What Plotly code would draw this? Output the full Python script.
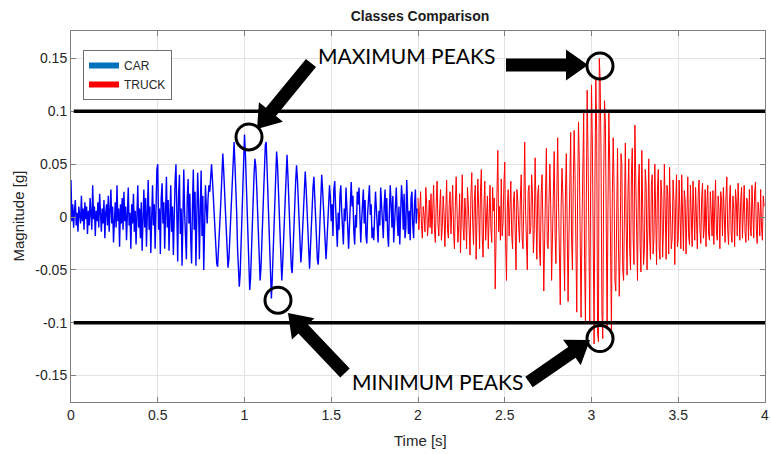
import math
import plotly.graph_objects as go

# ---------------- data ----------------
sample_step = 0.005         # s between samples
car_start = 0.0             # s
truck_start = 2.0           # s

car_values = [
    # 0.00 - 0.78 s : noisy, slowly growing
    0.035, -0.004, 0.012, -0.010, 0.006, 0.016, -0.008, 0.004, -0.014, 0.010, 0.002, -0.006, 0.020, -0.004, 0.008, -0.012, 0.014, -0.002, 0.010, -0.016,
    0.006, -0.008, 0.018, 0.004, -0.012, 0.030, -0.002, 0.010, -0.018, 0.006, -0.004, 0.014, -0.010, 0.022, 0.002, -0.014, 0.008, -0.006, 0.016, -0.020,
    0.004, 0.012, -0.008, 0.020, -0.014, 0.006, 0.026, -0.006, 0.010, -0.024, 0.002, 0.014, -0.010, 0.030, -0.004, 0.008, -0.028, 0.012, -0.006, 0.018,
    -0.012, 0.024, -0.004, 0.010, -0.022, 0.016, 0.028, -0.008, 0.004, -0.030, 0.012, -0.006, 0.022, -0.014, 0.006, -0.026, 0.018, 0.030, -0.010, 0.008,
    -0.020, 0.014, -0.032, 0.006, 0.026, -0.010, 0.018, -0.028, 0.004, 0.035, -0.012, 0.010, -0.034, 0.016, 0.030, -0.008, 0.012, -0.030, 0.020, 0.045,
    0.050, -0.012, 0.008, -0.035, 0.018, 0.032, -0.006, 0.014, -0.030, 0.004, 0.038, -0.010, 0.016, -0.032, 0.006, 0.030, -0.014, 0.010, -0.036, 0.012,
    0.034, 0.050, -0.010, -0.042, 0.020, 0.040, -0.016, 0.008, -0.046, 0.012, 0.045, 0.004, -0.030, -0.040, 0.018, 0.036, -0.006, 0.022, -0.020, -0.044,
    0.010, 0.045, -0.012, 0.024, -0.046, -0.010, 0.042, 0.014, -0.040, 0.006, 0.044, -0.018, 0.020, -0.050, -0.014, 0.030,
    # 0.78 - 1.50 s : strong oscillation around the maximum / minimum peaks
    0.010, -0.006, 0.018, 0.030, 0.024, 0.042, 0.050, 0.036, 0.020, 0.004, -0.018, -0.030, -0.044, -0.047, -0.034, -0.022,
    0.002, 0.020, 0.046, 0.060, 0.044, 0.030, 0.006, -0.012, -0.034, -0.048, -0.040, -0.020, -0.004, 0.024, 0.040, 0.062,
    0.071, 0.050, 0.030, 0.004, -0.030, -0.050, -0.066, -0.054, -0.030, -0.008, 0.022, 0.050, 0.078, 0.060, 0.034, 0.010,
    -0.024, -0.050, -0.069, -0.058, -0.030, -0.006, 0.018, 0.040, 0.055, 0.048, 0.030, 0.004, -0.022, -0.044, -0.060, -0.048,
    -0.024, 0.004, 0.030, 0.052, 0.068, 0.071, 0.046, 0.016, -0.014, -0.040, -0.062, -0.077, -0.058, -0.030, -0.004, 0.024,
    0.046, 0.062, 0.050, 0.026, 0.002, -0.024, -0.046, -0.060, -0.044, -0.020, 0.006, 0.030, 0.050, 0.059, 0.040, 0.018,
    -0.006, -0.030, -0.048, -0.053, -0.036, -0.012, 0.012, 0.034, 0.049, 0.036, 0.016, -0.006, -0.028, -0.043, -0.030, -0.010,
    0.014, 0.032, 0.043, 0.028, 0.008, -0.016, -0.036, -0.049, -0.030, -0.008, 0.012, 0.028, 0.038, 0.022, 0.002, -0.020,
    -0.040, -0.045, -0.026, -0.004, 0.016, 0.040, 0.026, 0.008, -0.014, -0.032, -0.040, -0.024, -0.006, 0.014, 0.030, 0.018,
    # 1.50 - 2.00 s : decaying noise
    -0.004, 0.012, -0.018, 0.026, 0.034, 0.010, -0.014, -0.028, 0.004, -0.012, 0.020, 0.030, 0.006, -0.020, -0.026, 0.008, -0.004, 0.028, 0.014, -0.010,
    -0.030, -0.006, 0.016, 0.033, 0.010, 0.020, -0.014, -0.026, 0.002, -0.010, 0.024, 0.012, 0.028, -0.008, -0.024, -0.004, 0.010, 0.026, -0.006, 0.016,
    -0.018, -0.025, 0.004, 0.020, 0.030, 0.002, 0.012, -0.020, -0.010, -0.022, 0.014, 0.024, 0.008, -0.012, -0.024, 0.006, -0.008, 0.028, 0.012, -0.006,
    -0.020, 0.010, 0.026, -0.004, 0.018, -0.016, -0.028, 0.004, 0.030, 0.012, -0.010, 0.020, -0.024, -0.006, 0.016, 0.028, -0.002, -0.018, 0.010, -0.026,
    0.004, 0.030, 0.016, -0.012, 0.022, -0.020, -0.010, 0.035, 0.010, -0.016, 0.006, -0.022, 0.018, 0.024, -0.008, -0.020, 0.012, 0.026, -0.006, 0.008,
]

truck_values = [
    0.018, -0.012, 0.006, 0.024, -0.008, -0.020, 0.010, 0.002, -0.014, 0.028, 0.012, -0.018, -0.006, 0.016, -0.010, 0.022, -0.016, 0.004, 0.030, -0.012,
    -0.024, 0.014, 0.034, -0.006, -0.018, 0.008, 0.026, -0.022, -0.010, 0.020, 0.004, -0.028, 0.016, 0.035, -0.012, -0.020, 0.012, 0.024, -0.016, 0.002,
    0.030, -0.014, -0.030, 0.010, 0.038, 0.006, -0.024, -0.008, 0.022, -0.034, 0.014, 0.040, -0.010, -0.022, 0.018, 0.002, -0.030, 0.028, 0.012, -0.018,
    -0.036, 0.020, 0.042, -0.004, -0.026, 0.016, 0.030, -0.040, -0.012, 0.036, 0.008, -0.030, 0.024, 0.045, -0.018, -0.038, 0.010, 0.034, -0.022, 0.004,
    0.020, -0.030, 0.012, 0.030, -0.010, -0.024, 0.028, 0.006, 0.018, -0.068, -0.020, 0.024, 0.063, -0.014, 0.010, -0.022, 0.036, -0.018, -0.006, 0.030,
    0.052, -0.024, -0.060, 0.010, 0.026, -0.018, 0.020, 0.034, -0.016, -0.030, 0.014, 0.024, -0.012, -0.050, 0.026, 0.016, -0.008, -0.024, 0.018, 0.040,
    -0.020, -0.030, 0.014, 0.071, 0.006, -0.022, -0.050, 0.024, 0.030, -0.016, -0.010, 0.040, 0.020, -0.034, -0.012, 0.056, 0.010, -0.040, 0.022, 0.030,
    -0.030, -0.046, 0.022, 0.040, -0.010, -0.070, -0.020, 0.030, 0.065, -0.026, -0.030, 0.014, 0.050, 0.012, -0.060, -0.020, 0.028, 0.062, -0.016, -0.044,
    0.020, 0.075, 0.014, -0.030, -0.083, 0.010, 0.046, 0.020, -0.040, -0.070, 0.024, 0.060, -0.010, -0.080, -0.018, 0.040, 0.080, -0.020, -0.050, 0.030,
    0.082, 0.040, -0.070, -0.090, 0.020, 0.090, 0.050, -0.060, -0.095, -0.010, 0.085, 0.100, -0.040, -0.098, 0.012, 0.120, 0.060, -0.080, -0.100, 0.030,
    0.125, 0.070, -0.090, -0.120, 0.040, 0.130, 0.080, -0.110, -0.118, 0.150, 0.130, 0.060, -0.090, -0.115, 0.030, 0.110, 0.090, -0.070, -0.105, 0.010,
    0.100, 0.050, -0.080, -0.108, 0.020, 0.075, 0.030, -0.060, -0.070, 0.040, 0.065, -0.020, -0.075, -0.030, 0.060, 0.050, -0.050, -0.060, 0.030, 0.070,
    -0.010, -0.055, 0.020, 0.055, -0.030, -0.050, 0.040, 0.065, -0.020, -0.045, 0.087, 0.020, -0.040, -0.060, 0.030, 0.050, -0.025, -0.052, 0.063, 0.010,
    -0.045, -0.030, 0.045, 0.030, -0.050, -0.010, 0.055, -0.020, -0.040, 0.030, 0.040, -0.035, -0.020, 0.050, 0.010, -0.045, 0.025, 0.045, -0.030, -0.040,
    0.035, 0.020, -0.038, -0.010, 0.050, -0.015, -0.040, 0.030, 0.020, -0.035, 0.047, 0.005, -0.030, -0.020, 0.035, 0.015, -0.045, 0.010, 0.040, -0.028,
    -0.020, 0.035, 0.010, -0.030, 0.040, -0.005, -0.032, 0.025, 0.015, -0.035, 0.020, 0.038, -0.018, -0.026, 0.030, -0.010, -0.028, 0.034, 0.008, -0.022,
    0.028, -0.018, -0.030, 0.022, 0.035, -0.012, -0.025, 0.018, 0.032, -0.020, -0.010, 0.026, -0.028, 0.012, 0.030, -0.016, -0.022, 0.024, 0.006, -0.018,
    0.025, -0.026, 0.010, 0.035, -0.014, -0.022, 0.020, 0.006, -0.030, 0.024, 0.016, -0.018, 0.028, -0.008, -0.024, 0.018, 0.038, -0.012, -0.026, 0.014,
    0.030, -0.016, -0.024, 0.020, 0.008, -0.028, 0.026, 0.014, -0.018, 0.032, -0.010, -0.022, 0.016, 0.028, -0.020, 0.004, 0.030, -0.014, -0.024, 0.018,
    0.012, -0.022, 0.026, -0.008, -0.018, 0.030, 0.010, -0.020, 0.022, 0.033, -0.012, -0.025, 0.014, 0.004, -0.018, 0.026, -0.010, -0.022, 0.020, 0.010,
]

threshold_values = [0.1, -0.1]

# annotated peaks: (time, magnitude)
max_peaks = [(1.026, 0.0758), (3.049, 0.143)]
min_peaks = [(1.193, -0.0787), (3.049, -0.115)]

x_tick_vals = [0, 0.5, 1, 1.5, 2, 2.5, 3, 3.5, 4]
x_tick_text = ["0", "0.5", "1", "1.5", "2", "2.5", "3", "3.5", "4"]
y_tick_vals = [-0.15, -0.1, -0.05, 0, 0.05, 0.1, 0.15]
y_tick_text = ["-0.15", "-0.1", "-0.05", "0", "0.05", "0.1", "0.15"]

car_time = [round(car_start + i * sample_step, 4) for i in range(len(car_values))]
truck_time = [round(truck_start + i * sample_step, 4) for i in range(len(truck_values))]

# ---------------- layout geometry ----------------
W, H = 771, 454
ML, MR, MT, MB = 71, 6, 31, 52
PW, PH = W - ML - MR, H - MT - MB


def to_paper(px, py):
    return (px - ML) / PW, (MT + PH - py) / PH


def arrow_path(tail, tip, shaft_w=13, head_w=31, head_len=22):
    dx, dy = tip[0] - tail[0], tip[1] - tail[1]
    L = math.hypot(dx, dy)
    ux, uy = dx / L, dy / L
    nx, ny = -uy, ux
    bx, by = tip[0] - ux * head_len, tip[1] - uy * head_len
    pts = [
        (tail[0] + nx * shaft_w / 2, tail[1] + ny * shaft_w / 2),
        (bx + nx * shaft_w / 2, by + ny * shaft_w / 2),
        (bx + nx * head_w / 2, by + ny * head_w / 2),
        tip,
        (bx - nx * head_w / 2, by - ny * head_w / 2),
        (bx - nx * shaft_w / 2, by - ny * shaft_w / 2),
        (tail[0] - nx * shaft_w / 2, tail[1] - ny * shaft_w / 2),
    ]
    pp = [to_paper(x, y) for x, y in pts]
    return "M " + " L ".join(f"{x:.5f},{y:.5f}" for x, y in pp) + " Z"


fig = go.Figure()

fig.add_trace(go.Scatter(x=car_time, y=car_values, mode="lines",
                         line=dict(color="#0000FF", width=1.4), showlegend=False,
                         name="CAR"))
fig.add_trace(go.Scatter(x=truck_time, y=truck_values, mode="lines",
                         line=dict(color="#FF0000", width=1), showlegend=False,
                         name="TRUCK"))
# legend entries
fig.add_trace(go.Scatter(x=[None], y=[None], mode="lines", name="CAR",
                         line=dict(color="#0072BD", width=6)))
fig.add_trace(go.Scatter(x=[None], y=[None], mode="lines", name="TRUCK",
                         line=dict(color="#FF0000", width=6)))

shapes = []
for yv in threshold_values:
    shapes.append(dict(type="line", xref="paper", yref="y", x0=0.004, x1=1,
                       y0=yv, y1=yv, line=dict(color="black", width=3.5),
                       layer="above"))

for (tx, ty) in max_peaks + min_peaks:
    shapes.append(dict(type="circle", xref="x", yref="y",
                       xsizemode="pixel", ysizemode="pixel",
                       xanchor=tx, yanchor=ty, x0=-13, x1=13, y0=-13, y1=13,
                       line=dict(color="black", width=3), layer="above"))

arrows = [((311, 63), (257, 129)),
          ((506, 65), (588, 65)),
          ((345, 373), (288, 313)),
          ((529, 382), (590, 340))]
for tail, tip in arrows:
    shapes.append(dict(type="path", xref="paper", yref="paper",
                       path=arrow_path(tail, tip), fillcolor="black",
                       line=dict(color="black", width=0), layer="above"))

ann_font = dict(family="Lato, 'Open Sans', sans-serif", size=21, color="black")
title_font = dict(family="Liberation Sans, Arial, sans-serif", size=15, color="#262626")
ax1, ay1 = to_paper(406, 55)
ax2, ay2 = to_paper(437, 381)
xt_x, xt_y = to_paper(420, 440)
yt_x, yt_y = to_paper(18, MT + PH / 2)
annotations = [
    dict(text="MAXIMUM PEAKS", x=ax1, y=ay1, xref="paper", yref="paper",
         showarrow=False, font=ann_font, xanchor="center", yanchor="middle"),
    dict(text="MINIMUM PEAKS", x=ax2, y=ay2, xref="paper", yref="paper",
         showarrow=False, font=ann_font, xanchor="center", yanchor="middle"),
    dict(text="Time [s]", x=xt_x, y=xt_y, xref="paper", yref="paper",
         showarrow=False, font=title_font, xanchor="center", yanchor="middle"),
    dict(text="Magnitude [g]", x=yt_x, y=yt_y, xref="paper", yref="paper",
         showarrow=False, font=title_font, textangle=-90,
         xanchor="center", yanchor="middle"),
]

axis_font = dict(family="Liberation Sans, Arial, sans-serif", size=14, color="#262626")

fig.update_layout(
    width=W, height=H,
    margin=dict(l=ML, r=MR, t=MT, b=MB, autoexpand=False),
    paper_bgcolor="white", plot_bgcolor="white",
    title=dict(text="<b>Classes Comparison</b>", x=420 / W, xanchor="center",
               y=1 - 16 / H, yanchor="middle",
               font=dict(family="Liberation Sans, Arial, sans-serif", size=14, color="#1a1a1a")),
    xaxis=dict(range=[0, 4], tickvals=x_tick_vals, ticktext=x_tick_text,
               showgrid=True, gridcolor="#E3E3E3", gridwidth=1, automargin=False,
               zeroline=False, showline=True, linecolor="#7f7f7f", linewidth=1,
               mirror="ticks", ticks="inside", ticklen=5, tickcolor="#7f7f7f",
               tickfont=axis_font, ticklabeloverflow="allow"),
    yaxis=dict(range=[-0.175, 0.176], tickvals=y_tick_vals, ticktext=y_tick_text,
               showgrid=True, gridcolor="#E3E3E3", gridwidth=1, automargin=False,
               zeroline=False, showline=True, linecolor="#7f7f7f", linewidth=1,
               mirror="ticks", ticks="inside", ticklen=5, tickcolor="#7f7f7f",
               tickfont=axis_font),
    legend=dict(x=(83 - ML) / PW, y=(MT + PH - 50) / PH, xanchor="left", yanchor="top",
                bgcolor="white", bordercolor="#6e6e6e", borderwidth=1,
                font=dict(family="Liberation Sans, Arial, sans-serif", size=12, color="#262626"),
                tracegroupgap=0, itemwidth=30),
    shapes=shapes,
    annotations=annotations,
)

fig.write_html("out.html", config={"displayModeBar": False},
               post_script="document.body.style.margin='0';document.body.style.overflow='hidden';")
